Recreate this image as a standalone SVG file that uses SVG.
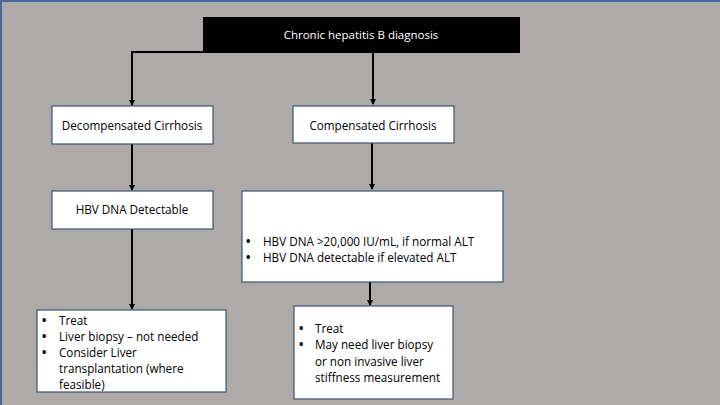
<svg xmlns="http://www.w3.org/2000/svg" width="720" height="405" viewBox="0 0 720 405">
<defs>
<marker id="ah" markerWidth="6" markerHeight="6" refX="5" refY="3" orient="auto" markerUnits="userSpaceOnUse">
<path d="M0,0 L6,3 L0,6 Z" fill="#000"/>
</marker>
<style>
.box{fill:#fff;stroke:#3c5474;stroke-width:1.2}
.t{font-family:"Open Sans","Liberation Sans",sans-serif;font-size:11.7px;fill:#000}
.b{font-weight:bold}
.c{text-anchor:middle}
.w{fill:#fff;font-size:11.5px}
.ln{fill:none;stroke:#000;stroke-width:2;marker-end:url(#ah)}
</style>
</defs>
<rect x="0" y="0" width="720" height="405" fill="#aeaaa9"/>
<path d="M1,405 V1 H720" fill="none" stroke="#4a6791" stroke-width="2"/>
<g id="connectors">
<path class="ln" d="M203,52 H132 V105"/>
<path class="ln" d="M373,53 V104"/>
<path class="ln" d="M132,144 V190"/>
<path class="ln" d="M372,143 V189"/>
<path class="ln" d="M132,229 V309"/>
<path class="ln" d="M370,282 V305"/>
</g>
<g id="n-root">
<rect x="203" y="17" width="317" height="36" fill="#000"/>
<text class="t c w" x="361" y="39">Chronic hepatitis B diagnosis</text>
</g>
<g id="n-decomp">
<rect class="box" x="52" y="106" width="161" height="38"/>
<text class="t c" x="132" y="130">Decompensated Cirrhosis</text>
</g>
<g id="n-comp">
<rect class="box" x="293" y="106" width="161" height="37"/>
<text class="t c" x="373" y="130">Compensated Cirrhosis</text>
</g>
<g id="n-hbv">
<rect class="box" x="52" y="191" width="161" height="38"/>
<text class="t c" x="132" y="214">HBV DNA Detectable</text>
</g>
<g id="n-hbv2">
<rect class="box" x="242" y="191" width="261" height="91"/>
<text class="t b" x="246" y="246">•</text><text class="t" x="263" y="246">HBV DNA &gt;20,000 IU/mL, if normal ALT</text>
<text class="t b" x="246" y="262">•</text><text class="t" x="263" y="262">HBV DNA detectable if elevated ALT</text>
</g>
<g id="n-treat1">
<rect class="box" x="37" y="310" width="189" height="82"/>
<text class="t b" x="42" y="325">•</text><text class="t" x="59" y="325">Treat</text>
<text class="t b" x="42" y="341">•</text><text class="t" x="59" y="341">Liver biopsy – not needed</text>
<text class="t b" x="42" y="357">•</text><text class="t" x="59" y="357">Consider Liver</text>
<text class="t" x="59" y="373">transplantation (where</text>
<text class="t" x="59" y="389">feasible)</text>
</g>
<g id="n-treat2">
<rect class="box" x="294" y="306" width="159" height="93"/>
<text class="t b" x="299" y="333">•</text><text class="t" x="315" y="333">Treat</text>
<text class="t b" x="299" y="349">•</text><text class="t" x="315" y="349">May need liver biopsy</text>
<text class="t" x="315" y="366">or non invasive liver</text>
<text class="t" x="315" y="382">stiffness measurement</text>
</g>
</svg>
